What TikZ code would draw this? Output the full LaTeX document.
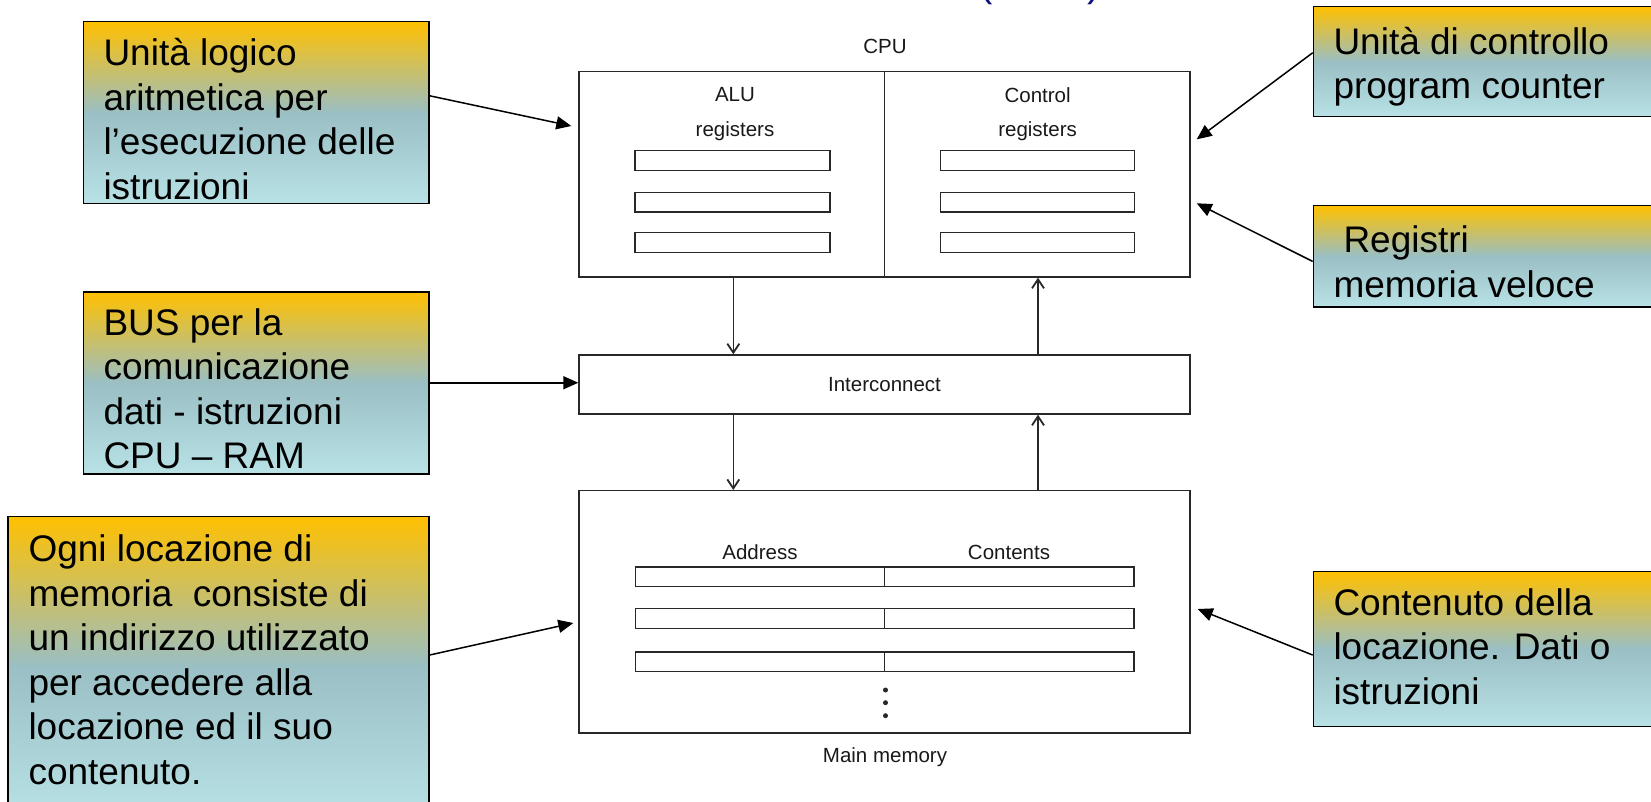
\documentclass[tikz,border=0pt]{standalone}
\usepackage{fontspec}
\setmainfont{Liberation Sans}
\usetikzlibrary{arrows.meta}
\definecolor{cgold}{RGB}{255,192,0}
\definecolor{cteal}{RGB}{154,191,196}
\definecolor{ccyan}{RGB}{184,226,230}
\definecolor{navy}{RGB}{16,16,120}
\definecolor{dline}{RGB}{40,40,40}
\newcommand{\topstrut}{\rule{0pt}{40pt}}
\begin{document}
\begin{tikzpicture}[x=1pt,y=-1pt,
  callout/.style={draw=black, line width=1.5pt, top color=cgold, bottom color=ccyan, middle color=cteal, rectangle, inner sep=0pt, anchor=north west},
  ctext/.style={anchor=north west, inner sep=0pt, align=left, font=\fontsize{37}{44.5}\selectfont},
  dbox/.style={draw=dline, line width=1.4pt, rectangle, inner sep=0pt},
  reg/.style={draw=dline, line width=1.4pt, rectangle, inner sep=0pt, minimum height=19.5pt},
  lbl/.style={font=\fontsize{20.5}{24}\selectfont, text=black!90, inner sep=0pt},
  darrow/.style={draw=dline, line width=1.4pt, -{Straight Barb[length=9pt,width=12pt,line width=1.8pt]}},
  carrow/.style={draw=black, line width=1.5pt, -{Triangle[length=15pt,width=13pt]}},
  ttl/.style={font=\fontsize{40}{48}\selectfont, text=navy, inner sep=0pt, anchor=base}
]
\useasboundingbox (0,0) rectangle (1651,802);

% cut-off title
\node[ttl] (lp) at (986,-3) {(};
\node[ttl] (rp) at (1094,-3) {)};

% ---------- diagram ----------
\node[lbl] (cpulbl) at (885,46.7) {CPU};
\node[dbox, minimum width=611pt, minimum height=205.3pt] (cpu) at (884.5,174.35) {};
\draw[draw=dline, line width=1.4pt] (cpu.north) -- (cpu.south);
\node[lbl] (alu) at (735,95) {ALU};
\node[lbl] (alureg) at (735,131.7) {registers};
\node[lbl] (ctl) at (1037.6,95) {Control};
\node[lbl] (ctlreg) at (1037.6,131.7) {registers};
\foreach \i/\y in {1/160.5, 2/202.2, 3/242.5} {
  \node[reg, minimum width=195pt] (ar\i) at (732.5,\y) {};
  \node[reg, minimum width=194pt] (cr\i) at (1037.7,\y) {};
}

\node[dbox, minimum width=611pt, minimum height=59pt, font=\fontsize{20.5}{24}\selectfont, text=black!90] (ic) at (884.5,384.5) {Interconnect};

\node[dbox, minimum width=611pt, minimum height=242.3pt] (mem) at (884.5,611.85) {};
\node[lbl] (addr) at (760,552) {Address};
\node[lbl] (cont) at (1009,552) {Contents};
\foreach \i/\y in {1/576.7, 2/618.5, 3/661.85} {
  \node[reg, minimum width=498.5pt] (mr\i) at (884.75,\y) {};
  \draw[draw=dline, line width=1.4pt] (mr\i.north) -- (mr\i.south);
}
\fill[dline] (885.5,690) circle (2.5pt);
\fill[dline] (885.5,702.7) circle (2.5pt);
\fill[dline] (885.5,715.7) circle (2.5pt);
\node[lbl] (mmlbl) at (885,756.7) {Main memory};

% bus arrows
\draw[darrow] ([xshift=-151.2pt]cpu.south) -- ([xshift=-151.2pt]ic.north);
\draw[darrow] ([xshift=153.5pt]ic.north) -- ([xshift=153.5pt]cpu.south);
\draw[darrow] ([xshift=-151.2pt]ic.south) -- ([xshift=-151.2pt]mem.north);
\draw[darrow] ([xshift=153.5pt]mem.north) -- ([xshift=153.5pt]ic.south);

% ---------- callouts ----------
\node[callout, minimum width=345.3pt, minimum height=182pt] (b1) at (82.7,21) {};
\node[ctext] (t1) at (103.3,25.7) {\topstrut Unità logico\\aritmetica per\\l’esecuzione delle\\istruzioni};

\node[callout, minimum width=360pt, minimum height=110pt] (b2) at (1312.7,6) {};
\node[ctext] (t2) at (1333.3,14) {\topstrut Unità di controllo\\program counter};

\node[callout, minimum width=360pt, minimum height=101pt] (b3) at (1312.7,205) {};
\node[ctext] (t3) at (1333.3,212.5) {\topstrut\hspace{10pt}Registri\\memoria veloce};

\node[callout, minimum width=345.3pt, minimum height=182pt] (b4) at (82.7,291) {};
\node[ctext] (t4) at (103.3,295) {\topstrut BUS per la\\comunicazione\\dati - istruzioni\\CPU – RAM};

\node[callout, minimum width=420.7pt, minimum height=300pt] (b5) at (7.3,515.7) {};
\node[ctext] (t5) at (28.3,521.7) {\topstrut Ogni locazione di\\memoria\ \ consiste di\\un indirizzo utilizzato\\per accedere alla\\locazione ed il suo\\contenuto.};

\node[callout, minimum width=360pt, minimum height=155pt] (b6) at (1312.7,570.7) {};
\node[ctext] (t6) at (1333.3,575) {\topstrut Contenuto della\\locazione. Dati o\\istruzioni};

% callout arrows
\draw[carrow] ([yshift=17pt]b1.east) -- ([xshift=-7pt,yshift=48.35pt]cpu.west);
\draw[carrow] ([yshift=9pt]b2.west) -- ([xshift=6pt,yshift=35pt]cpu.east);
\draw[carrow] ([yshift=-5.2pt]b3.west) -- ([xshift=6pt,yshift=-28.95pt]cpu.east);
\draw[carrow] (b4.east) -- (b4.east -| ic.west);
\draw[carrow] ([yshift=11.4pt]b5.east) -- ([xshift=-5pt,yshift=-11.15pt]mem.west);
\draw[carrow] ([yshift=-6.1pt]b6.west) -- ([xshift=7pt,yshift=2.85pt]mem.east);
\end{tikzpicture}
\end{document}
